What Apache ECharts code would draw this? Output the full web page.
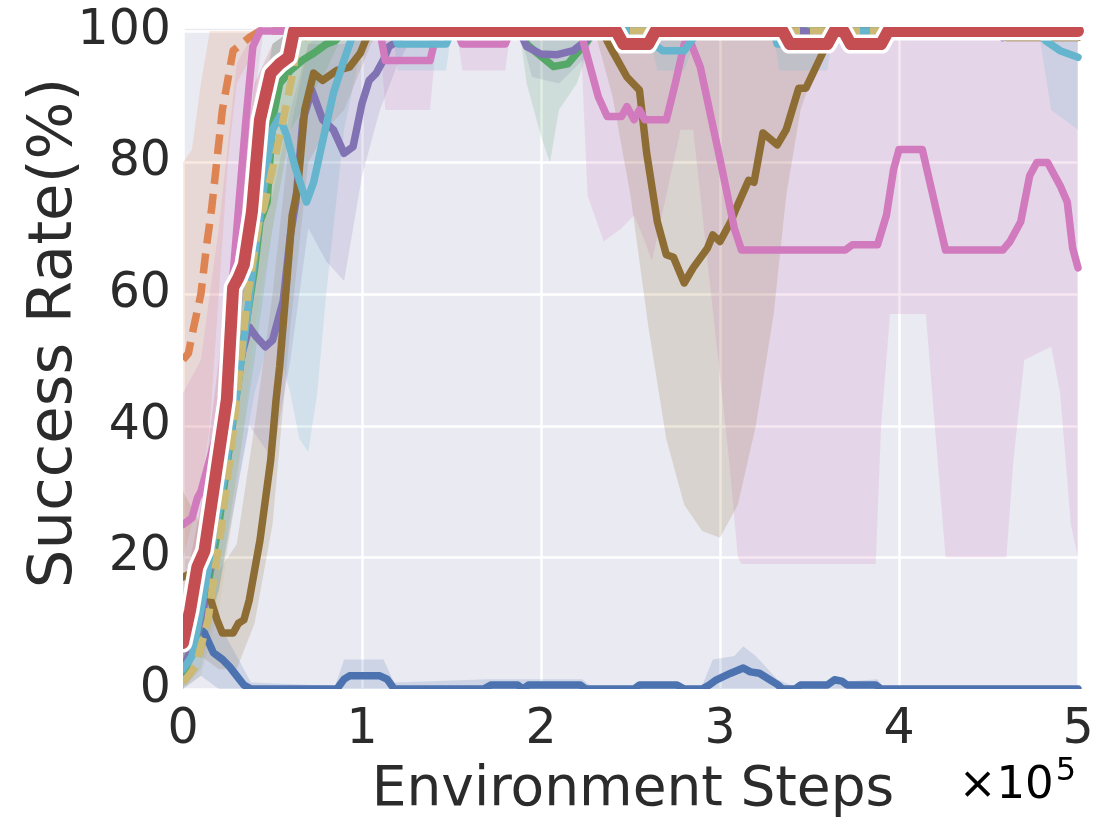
<!DOCTYPE html>
<html>
<head>
<meta charset="UTF-8" />
<title>Success Rate vs Environment Steps</title>
<script src="https://cdn.jsdelivr.net/npm/echarts@6/dist/echarts.min.js"></script>
<style>
  html, body { margin: 0; padding: 0; background: #fff; }
  #chart { width: 1111px; height: 834px; }
</style>
</head>
<body>
<div id="chart"></div>
<script>
// x in units of 1e5 environment steps, y in %
var xTicks = [0, 1, 2, 3, 4, 5];
var yTicks = [0, 20, 40, 60, 80, 100];

var blueLine = [[0,8],[0.05,9],[0.1,9],[0.12,8.5],[0.17,5.5],[0.22,4.5],[0.26,3.4],[0.3,2],[0.34,0.6],[0.38,0],[0.86,0],[0.9,1.5],[0.93,2],[1.1,2],[1.14,1.5],[1.18,0],[1.68,0],[1.72,0.6],[1.87,0.6],[1.9,0],[1.93,0.6],[2.22,0.6],[2.25,0],[2.52,0],[2.55,0.6],[2.76,0.6],[2.8,0],[2.9,0],[2.94,0.6],[2.98,1.4],[3.06,2.4],[3.13,3.2],[3.17,2.6],[3.22,2.4],[3.32,0.7],[3.35,0],[3.42,0],[3.45,0.6],[3.6,0.6],[3.64,1.4],[3.68,1.2],[3.71,0.6],[3.87,0.6],[3.9,0],[5,0]];
var blueBand = [[0,0,14],[0.1,2,15],[0.2,0,10],[0.3,0,5],[0.38,0,1],[0.85,0,0.5],[0.9,0,4.5],[1.12,0,4.5],[1.18,0,1],[1.7,0,1.5],[2.23,0,1.5],[2.3,0,0],[2.9,0,0.5],[2.96,0,4.5],[3.08,0,5],[3.13,0,6.5],[3.2,0,5],[3.32,0,1.5],[3.4,0,0.5],[3.88,0,1.5],[3.92,0,0],[5,0,0]];

var orangeLine = [[0,50],[0.03,51],[0.06,55],[0.1,60],[0.13,67],[0.16,73],[0.22,88],[0.28,97],[0.37,99],[0.43,100],[5,100]];
var orangeBand = [[0,20,80],[0.05,25,82],[0.1,30,92],[0.15,40,100],[0.2,60,100],[0.25,80,100],[0.3,92,100],[0.4,97,100],[0.45,100,100],[5,100,100]];

var greenLine = [[0,2],[0.1,10],[0.2,25],[0.3,45],[0.35,55],[0.4,64],[0.43,71],[0.47,74],[0.5,86.5],[0.54,92],[0.6,94],[0.67,95.6],[0.73,96.6],[0.8,98],[0.85,98.5],[0.9,100],[1.9,100],[1.92,98],[1.98,96.6],[2.07,94.6],[2.15,95],[2.2,96.6],[2.26,98.5],[2.3,100],[5,100]];
var greenBand = [[0,0,8],[0.2,15,40],[0.4,50,80],[0.5,70,98],[0.6,85,100],[0.8,94,100],[0.9,100,100],[1.88,100,100],[1.92,92,100],[2.0,84,100],[2.05,80,100],[2.1,88,100],[2.2,92,100],[2.3,100,100],[5,100,100]];

var purpleLine = [[0,3],[0.1,10],[0.2,28],[0.3,48],[0.37,55],[0.41,53.5],[0.46,52],[0.5,53],[0.56,59],[0.6,69],[0.63,74],[0.67,86.5],[0.72,91],[0.78,86.5],[0.84,85],[0.9,81.4],[0.95,82.4],[1.0,89],[1.04,92.5],[1.08,93.6],[1.12,95.6],[1.15,97.6],[1.2,98.5],[1.25,100],[1.88,100],[1.92,97.6],[2.0,96.5],[2.09,96.4],[2.18,97],[2.25,98.5],[2.3,100],[3.48,100],[3.5,99],[3.55,99],[3.57,100],[3.85,100],[3.88,99],[3.92,100],[4.55,100],[4.58,99],[4.62,100],[5,100]];
var purpleBand = [[0,0,10],[0.2,15,40],[0.37,40,68],[0.5,35,75],[0.6,50,88],[0.7,70,98],[0.8,65,98],[0.9,62,98],[1.0,78,100],[1.1,88,100],[1.2,95,100],[1.3,100,100],[1.88,100,100],[1.95,93,100],[2.1,92,100],[2.25,96,100],[2.3,100,100],[5,100,100]];

var brownLine = [[0,17],[0.04,17.5],[0.09,16],[0.15,14],[0.19,10.5],[0.22,8.5],[0.28,8.5],[0.31,10],[0.34,10.5],[0.37,13.5],[0.43,22.6],[0.49,34.8],[0.52,44],[0.54,49],[0.58,62],[0.61,72],[0.64,76],[0.68,88],[0.73,93.6],[0.78,92.5],[0.86,94],[0.93,94.5],[0.99,96.6],[1.02,98.6],[1.05,100],[2.3,100],[2.36,99],[2.39,97.4],[2.48,93],[2.55,91],[2.59,81.5],[2.65,71],[2.7,66],[2.74,65.6],[2.8,61.7],[2.85,64],[2.93,67],[2.96,69],[3.0,68],[3.06,71],[3.09,73],[3.16,77.3],[3.19,77],[3.24,84.5],[3.32,82.7],[3.37,85],[3.44,91.3],[3.48,91.3],[3.59,97.6],[3.62,100],[4.55,100],[4.6,99],[5,99]];
var brownBand = [[0,5,30],[0.1,5,25],[0.2,3,18],[0.3,3,22],[0.4,10,40],[0.5,25,60],[0.6,55,85],[0.7,80,98],[0.8,85,100],[0.9,88,100],[1.05,98,100],[1.1,100,100],[2.3,100,100],[2.4,90,100],[2.5,75,100],[2.6,55,100],[2.7,38,100],[2.8,28,100],[2.9,24,100],[3.0,23,100],[3.1,28,100],[3.2,40,100],[3.3,57,100],[3.37,75,100],[3.45,88,100],[3.55,96,100],[3.65,100,100],[5,100,100]];

var pinkLine = [[0,25],[0.05,26],[0.08,29],[0.1,30],[0.12,32],[0.18,38],[0.245,50],[0.28,63],[0.31,73],[0.35,86],[0.39,97.6],[0.43,100],[1.1,100],[1.13,95.5],[1.38,95.5],[1.42,100],[1.53,100],[1.56,98],[1.8,98],[1.83,100],[2.22,100],[2.27,95],[2.32,90],[2.37,87],[2.45,87],[2.48,88.5],[2.52,86.5],[2.55,88],[2.58,86.5],[2.7,86.5],[2.75,92],[2.8,98],[2.84,98],[2.89,94.5],[3.0,80.5],[3.08,70],[3.12,66.7],[3.7,66.7],[3.74,67.5],[3.88,67.5],[3.93,72],[3.97,79],[4.0,82],[4.13,82],[4.26,66.7],[4.58,66.7],[4.62,68],[4.68,71],[4.73,78],[4.77,80],[4.83,80],[4.87,78],[4.9,76.5],[4.94,74],[4.97,67],[5,64]];
var pinkBand = [[0,10,45],[0.1,15,50],[0.2,30,70],[0.3,55,95],[0.4,90,100],[0.45,100,100],[1.1,100,100],[1.13,88,100],[1.38,88,100],[1.42,100,100],[1.53,100,100],[1.56,94,100],[1.8,94,100],[1.83,100,100],[2.22,100,100],[2.26,75,100],[2.35,68,100],[2.45,70,100],[2.52,72,100],[2.58,68,100],[2.62,65,100],[2.7,75,100],[2.78,85,100],[2.85,85,100],[2.95,60,100],[3.05,35,100],[3.1,20,100],[3.12,19,100],[3.87,19,100],[3.9,40,100],[3.95,57,100],[4.15,57,100],[4.2,40,100],[4.26,20,100],[4.6,20,100],[4.64,35,100],[4.7,50,100],[4.85,52,100],[4.9,45,100],[4.96,25,100],[5,20,100]];

var cyanLine = [[0,3],[0.05,5],[0.1,12],[0.2,27],[0.3,45],[0.36,57],[0.4,66],[0.45,76],[0.5,85],[0.54,87],[0.58,84],[0.63,79],[0.69,74],[0.73,77],[0.77,82],[0.84,90.5],[0.9,95.6],[0.95,99.5],[1.0,100],[1.17,100],[1.2,98],[1.47,98],[1.5,100],[2.6,100],[2.63,98],[2.68,97],[2.8,97],[2.84,98.5],[2.88,100],[3.3,100],[3.32,98],[3.58,98],[3.62,100],[4.78,100],[4.82,98.5],[4.9,97],[4.95,96.5],[5,96]];
var cyanBand = [[0,0,10],[0.1,3,20],[0.2,15,40],[0.3,30,60],[0.4,45,85],[0.5,55,98],[0.6,45,100],[0.65,38,100],[0.7,36,100],[0.75,45,100],[0.8,60,100],[0.9,85,100],[1.0,98,100],[1.05,100,100],[1.17,100,100],[1.2,94,100],[1.47,94,100],[1.5,100,100],[2.6,100,100],[2.65,94,100],[2.8,94,100],[2.88,100,100],[3.3,100,100],[3.33,94,100],[3.6,94,100],[3.63,100,100],[4.78,100,100],[4.85,88,100],[5,85,100]];

var oliveLine = [[0,1],[0.03,2],[0.07,3.4],[0.14,10.5],[0.17,16.5],[0.21,23.7],[0.28,39],[0.36,59.6],[0.43,72],[0.45,73],[0.52,81.5],[0.56,86.5],[0.62,94.5],[0.63,97.6],[0.68,99],[0.72,100],[5,100]];
var oliveBand = [[0,0,6],[0.1,2,20],[0.2,12,40],[0.3,30,55],[0.4,55,85],[0.5,70,95],[0.6,85,100],[0.7,97,100],[0.75,100,100],[5,100,100]];

var redLine = [[0,7],[0.04,12],[0.08,18.5],[0.12,21],[0.18,32],[0.245,44],[0.28,61],[0.31,62.5],[0.34,64.5],[0.385,72.5],[0.43,86.5],[0.49,93.6],[0.54,95],[0.59,96],[0.62,100],[2.42,100],[2.46,98],[2.6,98],[2.64,100],[3.35,100],[3.39,98],[3.6,98],[3.64,100],[3.69,100],[3.73,98],[3.9,98],[3.94,100],[5,100]];
var redBand = [[0,2,14],[0.1,12,28],[0.2,28,50],[0.3,52,72],[0.4,72,92],[0.5,88,98],[0.6,96,100],[0.65,100,100],[5,100,100]];

var C = {
    blue: '#4C72B0', orange: '#DD8452', green: '#55A868', red: '#C44E52',
    purple: '#8172B3', brown: '#8E6D35', pink: '#D17ABD', cyan: '#64B5CD', olive: '#CCB974'
};

var chart = echarts.init(document.getElementById('chart'));

// confidence band drawn as one polygon through the axis scales
function band(data, color) {
    return {
        type: 'custom',
        silent: true,
        z: 1,
        data: data,
        encode: { x: 0, y: [1, 2] },
        renderItem: function (params, api) {
            if (params.dataIndex !== 0) return null;
            var pts = [];
            for (var i = 0; i < data.length; i++) pts.push(api.coord([data[i][0], data[i][2]]));
            for (var j = data.length - 1; j >= 0; j--) pts.push(api.coord([data[j][0], data[j][1]]));
            return { type: 'polygon', shape: { points: pts }, style: { fill: color, opacity: 0.18 } };
        }
    };
}

function line(data, color, dashed, width, z) {
    return {
        type: 'line',
        data: data,
        symbol: 'none',
        z: z || 2,
        silent: true,
        lineStyle: {
            color: color,
            width: width || 7.5,
            type: dashed ? [20, 10] : 'solid',
            cap: dashed ? 'butt' : 'round',
            join: 'round'
        }
    };
}

var txt = '#2b2b2b';
var font = 'DejaVu Sans';

chart.setOption({
    animation: false,
    grid: { left: 183, right: 33, top: 27, bottom: 145, show: true, backgroundColor: '#EAEAF2', borderWidth: 0 },
    xAxis: {
        type: 'value', min: 0, max: 5, interval: 1,
        axisLine: { show: false }, axisTick: { show: false },
        splitLine: { lineStyle: { color: '#fff', width: 2.5 } },
        axisLabel: {
            fontSize: 49, fontFamily: font, color: txt, margin: 17,
            formatter: function (v) { return xTicks.indexOf(v) >= 0 ? String(v) : ''; }
        }
    },
    yAxis: {
        type: 'value', min: 0, max: 100.6, interval: 20,
        axisLine: { show: false }, axisTick: { show: false },
        splitLine: { lineStyle: { color: '#fff', width: 2.5 } },
        axisLabel: {
            fontSize: 49, fontFamily: font, color: txt, margin: 12,
            formatter: function (v) { return yTicks.indexOf(v) >= 0 ? String(v) : ''; }
        }
    },
    graphic: [
        // page-coloured strips that crop the thick lines at the plot edges
        { type: 'rect', z: 100, silent: true, shape: { x: 178, y: 0, width: 933, height: 27 }, style: { fill: '#fff' } },
        { type: 'rect', z: 100, silent: true, shape: { x: 178, y: 689, width: 933, height: 16 }, style: { fill: '#fff' } },
        { type: 'rect', z: 100, silent: true, shape: { x: 176, y: 27, width: 7, height: 662 }, style: { fill: '#fff' } },
        {
            type: 'text', z: 101, x: 55, y: 333, rotation: Math.PI / 2,
            style: { text: 'Success Rate(%)', fontSize: 61, fontFamily: font, fill: txt, align: 'center', verticalAlign: 'middle' }
        },
        {
            type: 'text', z: 101, x: 633, y: 791,
            style: { text: 'Environment Steps', fontSize: 55, fontFamily: font, fill: txt, align: 'center', verticalAlign: 'middle' }
        },
        {
            type: 'text', z: 101, x: 1076, y: 786,
            style: {
                text: '{b|×10}{s|5}', align: 'right', verticalAlign: 'middle',
                rich: {
                    b: { fontSize: 45, fontFamily: font, color: txt },
                    s: { fontSize: 32, fontFamily: font, color: txt, verticalAlign: 'top', padding: [0, 0, 28, 2] }
                }
            }
        }
    ],
    series: [
        band(orangeBand, C.orange),
        band(pinkBand, C.pink),
        band(brownBand, C.brown),
        band(cyanBand, C.cyan),
        band(purpleBand, C.purple),
        band(greenBand, C.green),
        band(oliveBand, C.olive),
        band(blueBand, C.blue),
        band(redBand, C.red),
        line(blueLine, C.blue),
        line(orangeLine, C.orange, true),
        line(greenLine, C.green),
        line(purpleLine, C.purple),
        line(brownLine, C.brown),
        line(pinkLine, C.pink),
        line(cyanLine, C.cyan),
        line(oliveLine, C.olive, true),
        line(redLine, '#ffffff', false, 19, 3),
        line(redLine, C.red, false, 12, 4)
    ]
});

window.addEventListener('resize', function () { chart.resize(); });
</script>
</body>
</html>
